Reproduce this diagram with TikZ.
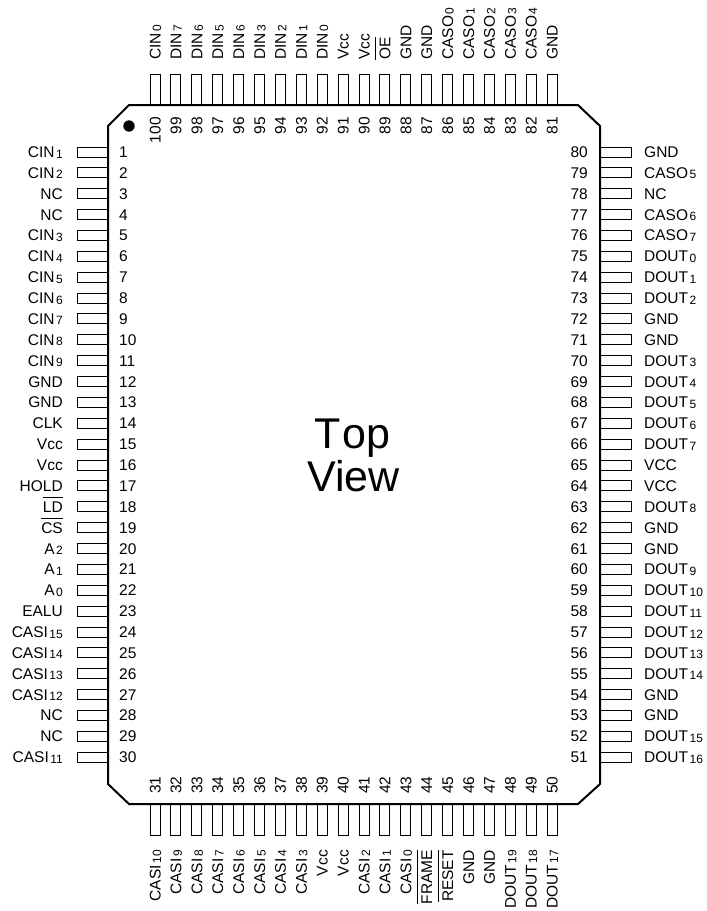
\documentclass[tikz,border=0pt]{standalone}
\usepackage{fontspec}
\usepackage{calc}
\setmainfont{Liberation Sans}
\newcommand{\subs}[1]{\kern1.5pt\raisebox{-0.5pt}{\fontsize{12}{12}\selectfont #1}}
\newcommand{\ovl}[1]{\leavevmode\rlap{\rule[14.6pt]{\widthof{#1}}{0.9pt}}#1}
\tikzset{
  pinbox/.style={draw=black,line width=1pt,fill=white},
  pinlabel/.style={inner sep=0pt,font=\fontsize{15.5}{15.5}\selectfont,text=black},
  biglabel/.style={inner sep=0pt,font=\fontsize{43}{43}\selectfont,text=black,anchor=base},
  chipbody/.style={draw=black,line width=2pt,line join=miter}
}
\begin{document}
\begin{tikzpicture}[x=1pt,y=-1pt]
\useasboundingbox (0,0) rectangle (707,911);
\def\pitch{20.87}
% left side
\foreach \n/\t [count=\i from 0] in {1/CIN\subs{1},2/CIN\subs{2},3/NC,4/NC,5/CIN\subs{3},6/CIN\subs{4},7/CIN\subs{5},8/CIN\subs{6},9/CIN\subs{7},10/CIN\subs{8},11/CIN\subs{9},12/GND,13/GND,14/CLK,15/Vcc,16/Vcc,17/HOLD,18/\ovl{LD},19/\ovl{CS},20/A\subs{2},21/A\subs{1},22/A\subs{0},23/EALU,24/CASI\subs{15},25/CASI\subs{14},26/CASI\subs{13},27/CASI\subs{12},28/NC,29/NC,30/CASI\subs{11}}{
  \pgfmathsetmacro\py{152+\i*\pitch}
  \draw[pinbox] (77,\py-5) rectangle (108,\py+5);
  \node[pinlabel,anchor=base east] (L\n) at (63,\py+5.5) {\t};
  \node[pinlabel,anchor=base west] (LN\n) at (119,\py+5.5) {\n};
}
% right side
\foreach \n/\t [count=\i from 0] in {80/GND,79/CASO\subs{5},78/NC,77/CASO\subs{6},76/CASO\subs{7},75/DOUT\subs{0},74/DOUT\subs{1},73/DOUT\subs{2},72/GND,71/GND,70/DOUT\subs{3},69/DOUT\subs{4},68/DOUT\subs{5},67/DOUT\subs{6},66/DOUT\subs{7},65/VCC,64/VCC,63/DOUT\subs{8},62/GND,61/GND,60/DOUT\subs{9},59/DOUT\subs{10},58/DOUT\subs{11},57/DOUT\subs{12},56/DOUT\subs{13},55/DOUT\subs{14},54/GND,53/GND,52/DOUT\subs{15},51/DOUT\subs{16}}{
  \pgfmathsetmacro\py{152+\i*\pitch}
  \draw[pinbox] (600,\py-5) rectangle (631,\py+5);
  \node[pinlabel,anchor=base west] (R\n) at (644,\py+5.5) {\t};
  \node[pinlabel,anchor=base east] (RN\n) at (588,\py+5.5) {\n};
}
% top side
\foreach \n/\t [count=\i from 0] in {100/CIN\subs{0},99/DIN\subs{7},98/DIN\subs{6},97/DIN\subs{5},96/DIN\subs{6},95/DIN\subs{3},94/DIN\subs{2},93/DIN\subs{1},92/DIN\subs{0},91/Vcc,90/Vcc,89/\ovl{OE},88/GND,87/GND,86/CASO\subs{0},85/CASO\subs{1},84/CASO\subs{2},83/CASO\subs{3},82/CASO\subs{4},81/GND}{
  \pgfmathsetmacro\px{155+\i*20.9}
  \draw[pinbox] (\px-5,74) rectangle (\px+5,105);
  \node[pinlabel,rotate=90,anchor=base west] (T\n) at (\px+5.5,60) {\t};
  \node[pinlabel,rotate=90,anchor=base east] (TN\n) at (\px+5.5,117) {\n};
}
% bottom side
\foreach \n/\t [count=\i from 0] in {31/CASI\subs{10},32/CASI\subs{9},33/CASI\subs{8},34/CASI\subs{7},35/CASI\subs{6},36/CASI\subs{5},37/CASI\subs{4},38/CASI\subs{3},39/Vcc,40/Vcc,41/CASI\subs{2},42/CASI\subs{1},43/CASI\subs{0},44/\ovl{FRAME},45/\ovl{RESET},46/GND,47/GND,48/DOUT\subs{19},49/DOUT\subs{18},50/DOUT\subs{17}}{
  \pgfmathsetmacro\px{155+\i*20.9}
  \draw[pinbox] (\px-5,804) rectangle (\px+5,835);
  \node[pinlabel,rotate=90,anchor=base east] (B\n) at (\px+5.5,850) {\t};
  \node[pinlabel,rotate=90,anchor=base west] (BN\n) at (\px+5.5,794) {\n};
}
% body
\draw[chipbody] (129,105) -- (578,105) -- (600,126) -- (600,784) -- (578,804) -- (129,804) -- (108,784) -- (108,126) -- cycle;
\fill[black] (129,126) circle (5.7);
\node[biglabel] (top) at (352.5,448.7) {T\kern2.5pt op};
\node[biglabel] (view) at (353.5,491) {View};
\end{tikzpicture}
\end{document}
